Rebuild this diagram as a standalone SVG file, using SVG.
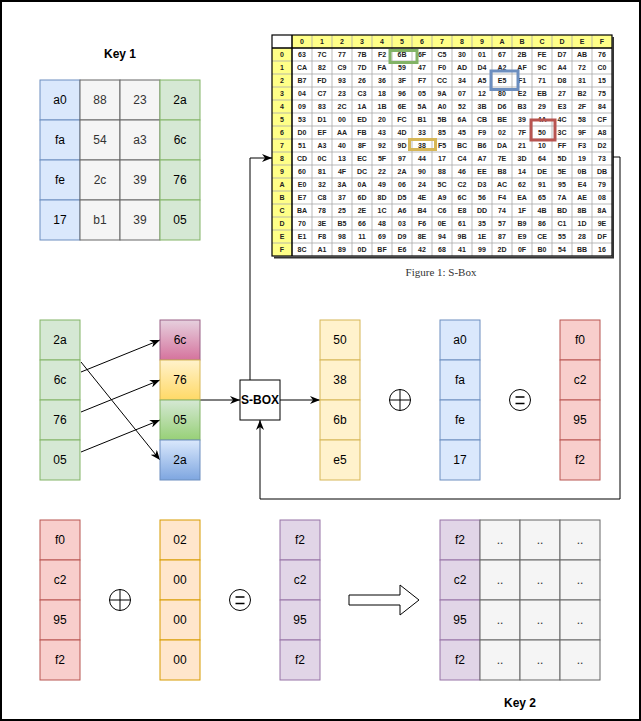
<svg xmlns="http://www.w3.org/2000/svg" width="641" height="721" viewBox="0 0 641 721">
<style>
.t{font-family:"Liberation Sans",Arial,sans-serif;font-size:12px;text-anchor:middle;fill:#000}
.tg{fill:#333}
.bd{font-weight:bold}
.s{font-family:"Liberation Sans",Arial,sans-serif;font-size:7px;font-weight:bold;text-anchor:middle;fill:#222}
.blue{fill:#dae8fc;stroke:#6c8ebf}
.green{fill:#d5e8d4;stroke:#82b366}
.gray{fill:#f5f5f5;stroke:#666}
.yellow{fill:#fff2cc;stroke:#d6b656}
.red{fill:#f8cecc;stroke:#b85450}
.orange{fill:#ffe6cc;stroke:#d79b00}
.purple{fill:#e1d5e7;stroke:#9673a6}
.edge{fill:none;stroke:#000;stroke-width:1}
.hl{fill:none;stroke-width:3}
.sym{fill:#fff;stroke:#000;stroke-width:1}
</style>
<defs>
<marker id="arr" markerUnits="userSpaceOnUse" viewBox="0 0 10 8" refX="10" refY="4" markerWidth="10" markerHeight="8" orient="auto">
<path d="M0,0 L10,4 L0,8 L3,4 Z" fill="#000"/>
</marker>
<linearGradient id="gPink" x1="0" y1="0" x2="0" y2="1"><stop offset="0" stop-color="#e6d0de"/><stop offset="1" stop-color="#d5739d"/></linearGradient>
<linearGradient id="gYel" x1="0" y1="0" x2="0" y2="1"><stop offset="0" stop-color="#fff2cc"/><stop offset="1" stop-color="#ffd966"/></linearGradient>
<linearGradient id="gGrn" x1="0" y1="0" x2="0" y2="1"><stop offset="0" stop-color="#d5e8d4"/><stop offset="1" stop-color="#97d077"/></linearGradient>
<linearGradient id="gBlu" x1="0" y1="0" x2="0" y2="1"><stop offset="0" stop-color="#dae8fc"/><stop offset="1" stop-color="#7ea6e0"/></linearGradient>
</defs>
<rect x="0" y="0" width="641" height="721" fill="#fff"/>
<rect x="1" y="1" width="639" height="719" fill="none" stroke="#000" stroke-width="2"/>

<g id="key1">
<text class="t bd" x="120" y="58">Key 1</text>
<rect class="blue" x="40" y="80" width="40" height="40"/><rect class="blue" x="40" y="120" width="40" height="40"/><rect class="blue" x="40" y="160" width="40" height="40"/><rect class="blue" x="40" y="200" width="40" height="40"/>
<rect class="gray" x="80" y="80" width="40" height="40"/><rect class="gray" x="80" y="120" width="40" height="40"/><rect class="gray" x="80" y="160" width="40" height="40"/><rect class="gray" x="80" y="200" width="40" height="40"/>
<rect class="gray" x="120" y="80" width="40" height="40"/><rect class="gray" x="120" y="120" width="40" height="40"/><rect class="gray" x="120" y="160" width="40" height="40"/><rect class="gray" x="120" y="200" width="40" height="40"/>
<rect class="green" x="160" y="80" width="40" height="40"/><rect class="green" x="160" y="120" width="40" height="40"/><rect class="green" x="160" y="160" width="40" height="40"/><rect class="green" x="160" y="200" width="40" height="40"/>
<text class="t" x="60" y="104">a0</text><text class="t" x="60" y="144">fa</text><text class="t" x="60" y="184">fe</text><text class="t" x="60" y="224">17</text>
<text class="t tg" x="100" y="104">88</text><text class="t tg" x="100" y="144">54</text><text class="t tg" x="100" y="184">2c</text><text class="t tg" x="100" y="224">b1</text>
<text class="t tg" x="140" y="104">23</text><text class="t tg" x="140" y="144">a3</text><text class="t tg" x="140" y="184">39</text><text class="t tg" x="140" y="224">39</text>
<text class="t" x="180" y="104">2a</text><text class="t" x="180" y="144">6c</text><text class="t" x="180" y="184">76</text><text class="t" x="180" y="224">05</text>
</g>

<g id="sbox-table">
<rect x="272" y="35" width="340" height="221" fill="#fff"/>
<rect x="292" y="35" width="320" height="13" fill="#ffff88"/>
<rect x="272" y="48" width="20" height="208" fill="#ffff88"/>
<path d="M312,35V256M332,35V256M352,35V256M372,35V256M392,35V256M412,35V256M432,35V256M452,35V256M472,35V256M492,35V256M512,35V256M532,35V256M552,35V256M572,35V256M592,35V256M272,61H612M272,74H612M272,87H612M272,100H612M272,113H612M272,126H612M272,139H612M272,152H612M272,165H612M272,178H612M272,191H612M272,204H612M272,217H612M272,230H612M272,243H612" fill="none" stroke="#aaa" stroke-width="0.8"/>
<path d="M272,48H612M292,35V256" fill="none" stroke="#000" stroke-width="1.5"/>
<rect x="272" y="35" width="340" height="221" fill="none" stroke="#000" stroke-width="1.2"/>
<path d="M613,37V257.5H274" fill="none" stroke="#333" stroke-width="2"/>
<text class="s"><tspan x="302" y="44">0</tspan><tspan x="322" y="44">1</tspan><tspan x="342" y="44">2</tspan><tspan x="362" y="44">3</tspan><tspan x="382" y="44">4</tspan><tspan x="402" y="44">5</tspan><tspan x="422" y="44">6</tspan><tspan x="442" y="44">7</tspan><tspan x="462" y="44">8</tspan><tspan x="482" y="44">9</tspan><tspan x="502" y="44">A</tspan><tspan x="522" y="44">B</tspan><tspan x="542" y="44">C</tspan><tspan x="562" y="44">D</tspan><tspan x="582" y="44">E</tspan><tspan x="602" y="44">F</tspan></text>
<text class="s"><tspan x="282" y="57">0</tspan><tspan x="282" y="70">1</tspan><tspan x="282" y="83">2</tspan><tspan x="282" y="96">3</tspan><tspan x="282" y="109">4</tspan><tspan x="282" y="122">5</tspan><tspan x="282" y="135">6</tspan><tspan x="282" y="148">7</tspan><tspan x="282" y="161">8</tspan><tspan x="282" y="174">9</tspan><tspan x="282" y="187">A</tspan><tspan x="282" y="200">B</tspan><tspan x="282" y="213">C</tspan><tspan x="282" y="226">D</tspan><tspan x="282" y="239">E</tspan><tspan x="282" y="252">F</tspan></text>
<text class="s" y="57"><tspan x="302">63</tspan><tspan x="322">7C</tspan><tspan x="342">77</tspan><tspan x="362">7B</tspan><tspan x="382">F2</tspan><tspan x="402">6B</tspan><tspan x="422">6F</tspan><tspan x="442">C5</tspan><tspan x="462">30</tspan><tspan x="482">01</tspan><tspan x="502">67</tspan><tspan x="522">2B</tspan><tspan x="542">FE</tspan><tspan x="562">D7</tspan><tspan x="582">AB</tspan><tspan x="602">76</tspan></text>
<text class="s" y="70"><tspan x="302">CA</tspan><tspan x="322">82</tspan><tspan x="342">C9</tspan><tspan x="362">7D</tspan><tspan x="382">FA</tspan><tspan x="402">59</tspan><tspan x="422">47</tspan><tspan x="442">F0</tspan><tspan x="462">AD</tspan><tspan x="482">D4</tspan><tspan x="502">A2</tspan><tspan x="522">AF</tspan><tspan x="542">9C</tspan><tspan x="562">A4</tspan><tspan x="582">72</tspan><tspan x="602">C0</tspan></text>
<text class="s" y="83"><tspan x="302">B7</tspan><tspan x="322">FD</tspan><tspan x="342">93</tspan><tspan x="362">26</tspan><tspan x="382">36</tspan><tspan x="402">3F</tspan><tspan x="422">F7</tspan><tspan x="442">CC</tspan><tspan x="462">34</tspan><tspan x="482">A5</tspan><tspan x="502">E5</tspan><tspan x="522">F1</tspan><tspan x="542">71</tspan><tspan x="562">D8</tspan><tspan x="582">31</tspan><tspan x="602">15</tspan></text>
<text class="s" y="96"><tspan x="302">04</tspan><tspan x="322">C7</tspan><tspan x="342">23</tspan><tspan x="362">C3</tspan><tspan x="382">18</tspan><tspan x="402">96</tspan><tspan x="422">05</tspan><tspan x="442">9A</tspan><tspan x="462">07</tspan><tspan x="482">12</tspan><tspan x="502">80</tspan><tspan x="522">E2</tspan><tspan x="542">EB</tspan><tspan x="562">27</tspan><tspan x="582">B2</tspan><tspan x="602">75</tspan></text>
<text class="s" y="109"><tspan x="302">09</tspan><tspan x="322">83</tspan><tspan x="342">2C</tspan><tspan x="362">1A</tspan><tspan x="382">1B</tspan><tspan x="402">6E</tspan><tspan x="422">5A</tspan><tspan x="442">A0</tspan><tspan x="462">52</tspan><tspan x="482">3B</tspan><tspan x="502">D6</tspan><tspan x="522">B3</tspan><tspan x="542">29</tspan><tspan x="562">E3</tspan><tspan x="582">2F</tspan><tspan x="602">84</tspan></text>
<text class="s" y="122"><tspan x="302">53</tspan><tspan x="322">D1</tspan><tspan x="342">00</tspan><tspan x="362">ED</tspan><tspan x="382">20</tspan><tspan x="402">FC</tspan><tspan x="422">B1</tspan><tspan x="442">5B</tspan><tspan x="462">6A</tspan><tspan x="482">CB</tspan><tspan x="502">BE</tspan><tspan x="522">39</tspan><tspan x="542">4A</tspan><tspan x="562">4C</tspan><tspan x="582">58</tspan><tspan x="602">CF</tspan></text>
<text class="s" y="135"><tspan x="302">D0</tspan><tspan x="322">EF</tspan><tspan x="342">AA</tspan><tspan x="362">FB</tspan><tspan x="382">43</tspan><tspan x="402">4D</tspan><tspan x="422">33</tspan><tspan x="442">85</tspan><tspan x="462">45</tspan><tspan x="482">F9</tspan><tspan x="502">02</tspan><tspan x="522">7F</tspan><tspan x="542">50</tspan><tspan x="562">3C</tspan><tspan x="582">9F</tspan><tspan x="602">A8</tspan></text>
<text class="s" y="148"><tspan x="302">51</tspan><tspan x="322">A3</tspan><tspan x="342">40</tspan><tspan x="362">8F</tspan><tspan x="382">92</tspan><tspan x="402">9D</tspan><tspan x="422">38</tspan><tspan x="442">F5</tspan><tspan x="462">BC</tspan><tspan x="482">B6</tspan><tspan x="502">DA</tspan><tspan x="522">21</tspan><tspan x="542">10</tspan><tspan x="562">FF</tspan><tspan x="582">F3</tspan><tspan x="602">D2</tspan></text>
<text class="s" y="161"><tspan x="302">CD</tspan><tspan x="322">0C</tspan><tspan x="342">13</tspan><tspan x="362">EC</tspan><tspan x="382">5F</tspan><tspan x="402">97</tspan><tspan x="422">44</tspan><tspan x="442">17</tspan><tspan x="462">C4</tspan><tspan x="482">A7</tspan><tspan x="502">7E</tspan><tspan x="522">3D</tspan><tspan x="542">64</tspan><tspan x="562">5D</tspan><tspan x="582">19</tspan><tspan x="602">73</tspan></text>
<text class="s" y="174"><tspan x="302">60</tspan><tspan x="322">81</tspan><tspan x="342">4F</tspan><tspan x="362">DC</tspan><tspan x="382">22</tspan><tspan x="402">2A</tspan><tspan x="422">90</tspan><tspan x="442">88</tspan><tspan x="462">46</tspan><tspan x="482">EE</tspan><tspan x="502">B8</tspan><tspan x="522">14</tspan><tspan x="542">DE</tspan><tspan x="562">5E</tspan><tspan x="582">0B</tspan><tspan x="602">DB</tspan></text>
<text class="s" y="187"><tspan x="302">E0</tspan><tspan x="322">32</tspan><tspan x="342">3A</tspan><tspan x="362">0A</tspan><tspan x="382">49</tspan><tspan x="402">06</tspan><tspan x="422">24</tspan><tspan x="442">5C</tspan><tspan x="462">C2</tspan><tspan x="482">D3</tspan><tspan x="502">AC</tspan><tspan x="522">62</tspan><tspan x="542">91</tspan><tspan x="562">95</tspan><tspan x="582">E4</tspan><tspan x="602">79</tspan></text>
<text class="s" y="200"><tspan x="302">E7</tspan><tspan x="322">C8</tspan><tspan x="342">37</tspan><tspan x="362">6D</tspan><tspan x="382">8D</tspan><tspan x="402">D5</tspan><tspan x="422">4E</tspan><tspan x="442">A9</tspan><tspan x="462">6C</tspan><tspan x="482">56</tspan><tspan x="502">F4</tspan><tspan x="522">EA</tspan><tspan x="542">65</tspan><tspan x="562">7A</tspan><tspan x="582">AE</tspan><tspan x="602">08</tspan></text>
<text class="s" y="213"><tspan x="302">BA</tspan><tspan x="322">78</tspan><tspan x="342">25</tspan><tspan x="362">2E</tspan><tspan x="382">1C</tspan><tspan x="402">A6</tspan><tspan x="422">B4</tspan><tspan x="442">C6</tspan><tspan x="462">E8</tspan><tspan x="482">DD</tspan><tspan x="502">74</tspan><tspan x="522">1F</tspan><tspan x="542">4B</tspan><tspan x="562">BD</tspan><tspan x="582">8B</tspan><tspan x="602">8A</tspan></text>
<text class="s" y="226"><tspan x="302">70</tspan><tspan x="322">3E</tspan><tspan x="342">B5</tspan><tspan x="362">66</tspan><tspan x="382">48</tspan><tspan x="402">03</tspan><tspan x="422">F6</tspan><tspan x="442">0E</tspan><tspan x="462">61</tspan><tspan x="482">35</tspan><tspan x="502">57</tspan><tspan x="522">B9</tspan><tspan x="542">86</tspan><tspan x="562">C1</tspan><tspan x="582">1D</tspan><tspan x="602">9E</tspan></text>
<text class="s" y="239"><tspan x="302">E1</tspan><tspan x="322">F8</tspan><tspan x="342">98</tspan><tspan x="362">11</tspan><tspan x="382">69</tspan><tspan x="402">D9</tspan><tspan x="422">8E</tspan><tspan x="442">94</tspan><tspan x="462">9B</tspan><tspan x="482">1E</tspan><tspan x="502">87</tspan><tspan x="522">E9</tspan><tspan x="542">CE</tspan><tspan x="562">55</tspan><tspan x="582">28</tspan><tspan x="602">DF</tspan></text>
<text class="s" y="252"><tspan x="302">8C</tspan><tspan x="322">A1</tspan><tspan x="342">89</tspan><tspan x="362">0D</tspan><tspan x="382">BF</tspan><tspan x="402">E6</tspan><tspan x="422">42</tspan><tspan x="442">68</tspan><tspan x="462">41</tspan><tspan x="482">99</tspan><tspan x="502">2D</tspan><tspan x="522">0F</tspan><tspan x="542">B0</tspan><tspan x="562">54</tspan><tspan x="582">BB</tspan><tspan x="602">16</tspan></text>
<rect class="hl" x="390" y="50.5" width="27" height="12" stroke="#82b366"/>
<rect class="hl" x="491" y="71" width="27" height="18.5" stroke="#6c8ebf"/>
<rect class="hl" x="531" y="120" width="24" height="20" stroke="#b85450"/>
<rect class="hl" x="409.5" y="139.5" width="26" height="10" stroke="#d6b656"/>
<text x="441" y="276" font-family="'Liberation Serif','Times New Roman',serif" font-size="11" fill="#333" text-anchor="middle">Figure 1: S-Box</text>
</g>

<g id="connectors">
<path class="edge" d="M81,372 L160,340" marker-end="url(#arr)"/>
<path class="edge" d="M81,412 L160,380" marker-end="url(#arr)"/>
<path class="edge" d="M81,452 L160,420" marker-end="url(#arr)"/>
<path class="edge" d="M81,362 L160,460" marker-end="url(#arr)"/>
<path class="edge" d="M200,400 L240,400" marker-end="url(#arr)"/>
<path class="edge" d="M280,400 L320,400" marker-end="url(#arr)"/>
<path class="edge" d="M250,380 L250,158 L272,158" marker-end="url(#arr)"/>
<path class="edge" d="M613,157 L620,157 L620,499 L260,499 L260,420" marker-end="url(#arr)"/>
</g>

<g id="word-in">
<rect class="green" x="40" y="320" width="40" height="40"/><rect class="green" x="40" y="360" width="40" height="40"/><rect class="green" x="40" y="400" width="40" height="40"/><rect class="green" x="40" y="440" width="40" height="40"/>
<text class="t" x="60" y="344">2a</text><text class="t" x="60" y="384">6c</text><text class="t" x="60" y="424">76</text><text class="t" x="60" y="464">05</text>
</g>
<g id="word-rot">
<rect x="160" y="320" width="40" height="40" fill="url(#gPink)" stroke="#996185"/>
<rect x="160" y="360" width="40" height="40" fill="url(#gYel)" stroke="#d6b656"/>
<rect x="160" y="400" width="40" height="40" fill="url(#gGrn)" stroke="#82b366"/>
<rect x="160" y="440" width="40" height="40" fill="url(#gBlu)" stroke="#6c8ebf"/>
<text class="t" x="180" y="344">6c</text><text class="t" x="180" y="384">76</text><text class="t" x="180" y="424">05</text><text class="t" x="180" y="464">2a</text>
</g>
<g id="sbox">
<rect x="240" y="380" width="40" height="40" fill="#fff" stroke="#000"/>
<text class="t bd" x="260" y="404">S-BOX</text>
</g>
<g id="word-sub">
<rect class="yellow" x="320" y="320" width="40" height="40"/><rect class="yellow" x="320" y="360" width="40" height="40"/><rect class="yellow" x="320" y="400" width="40" height="40"/><rect class="yellow" x="320" y="440" width="40" height="40"/>
<text class="t" x="340" y="344">50</text><text class="t" x="340" y="384">38</text><text class="t" x="340" y="424">6b</text><text class="t" x="340" y="464">e5</text>
</g>
<g id="xor1">
<circle class="sym" cx="400" cy="400" r="10.5"/><path d="M389.5,400H410.5M400,389.5V410.5" stroke="#000" fill="none"/>
</g>
<g id="word-key1">
<rect class="blue" x="440" y="320" width="40" height="40"/><rect class="blue" x="440" y="360" width="40" height="40"/><rect class="blue" x="440" y="400" width="40" height="40"/><rect class="blue" x="440" y="440" width="40" height="40"/>
<text class="t" x="460" y="344">a0</text><text class="t" x="460" y="384">fa</text><text class="t" x="460" y="424">fe</text><text class="t" x="460" y="464">17</text>
</g>
<g id="eq1">
<circle class="sym" cx="520" cy="400" r="10.5"/><path d="M515.5,397H524.5M515.5,403.5H524.5" stroke="#000" stroke-width="1.3" fill="none"/>
</g>
<g id="word-res1">
<rect class="red" x="560" y="320" width="40" height="40"/><rect class="red" x="560" y="360" width="40" height="40"/><rect class="red" x="560" y="400" width="40" height="40"/><rect class="red" x="560" y="440" width="40" height="40"/>
<text class="t" x="580" y="344">f0</text><text class="t" x="580" y="384">c2</text><text class="t" x="580" y="424">95</text><text class="t" x="580" y="464">f2</text>
</g>

<g id="word-res1b">
<rect class="red" x="40" y="520" width="40" height="40"/><rect class="red" x="40" y="560" width="40" height="40"/><rect class="red" x="40" y="600" width="40" height="40"/><rect class="red" x="40" y="640" width="40" height="40"/>
<text class="t" x="60" y="544">f0</text><text class="t" x="60" y="584">c2</text><text class="t" x="60" y="624">95</text><text class="t" x="60" y="664">f2</text>
</g>
<g id="xor2">
<circle class="sym" cx="120" cy="600" r="10.5"/><path d="M109.5,600H130.5M120,589.5V610.5" stroke="#000" fill="none"/>
</g>
<g id="rcon">
<rect class="orange" x="160" y="520" width="40" height="40"/><rect class="orange" x="160" y="560" width="40" height="40"/><rect class="orange" x="160" y="600" width="40" height="40"/><rect class="orange" x="160" y="640" width="40" height="40"/>
<text class="t" x="180" y="544">02</text><text class="t" x="180" y="584">00</text><text class="t" x="180" y="624">00</text><text class="t" x="180" y="664">00</text>
</g>
<g id="eq2">
<circle class="sym" cx="240" cy="600" r="10.5"/><path d="M235.5,597H244.5M235.5,603.5H244.5" stroke="#000" stroke-width="1.3" fill="none"/>
</g>
<g id="word-res2">
<rect class="purple" x="280" y="520" width="40" height="40"/><rect class="purple" x="280" y="560" width="40" height="40"/><rect class="purple" x="280" y="600" width="40" height="40"/><rect class="purple" x="280" y="640" width="40" height="40"/>
<text class="t" x="300" y="544">f2</text><text class="t" x="300" y="584">c2</text><text class="t" x="300" y="624">95</text><text class="t" x="300" y="664">f2</text>
</g>
<g id="big-arrow">
<path d="M349,595H400V585L419,600L400,615V605H349Z" fill="#fff" stroke="#000"/>
</g>
<g id="key2">
<rect class="purple" x="440" y="520" width="40" height="40"/><rect class="purple" x="440" y="560" width="40" height="40"/><rect class="purple" x="440" y="600" width="40" height="40"/><rect class="purple" x="440" y="640" width="40" height="40"/>
<rect class="gray" x="480" y="520" width="40" height="40"/><rect class="gray" x="480" y="560" width="40" height="40"/><rect class="gray" x="480" y="600" width="40" height="40"/><rect class="gray" x="480" y="640" width="40" height="40"/>
<rect class="gray" x="520" y="520" width="40" height="40"/><rect class="gray" x="520" y="560" width="40" height="40"/><rect class="gray" x="520" y="600" width="40" height="40"/><rect class="gray" x="520" y="640" width="40" height="40"/>
<rect class="gray" x="560" y="520" width="40" height="40"/><rect class="gray" x="560" y="560" width="40" height="40"/><rect class="gray" x="560" y="600" width="40" height="40"/><rect class="gray" x="560" y="640" width="40" height="40"/>
<text class="t" x="460" y="544">f2</text><text class="t" x="460" y="584">c2</text><text class="t" x="460" y="624">95</text><text class="t" x="460" y="664">f2</text>
<g font-size="10">
<text class="t tg" x="500" y="544" font-size="10">..</text><text class="t tg" x="540" y="544" font-size="10">..</text><text class="t tg" x="580" y="544" font-size="10">..</text>
<text class="t tg" x="500" y="584" font-size="10">..</text><text class="t tg" x="540" y="584" font-size="10">..</text><text class="t tg" x="580" y="584" font-size="10">..</text>
<text class="t tg" x="500" y="624" font-size="10">..</text><text class="t tg" x="540" y="624" font-size="10">..</text><text class="t tg" x="580" y="624" font-size="10">..</text>
<text class="t tg" x="500" y="664" font-size="10">..</text><text class="t tg" x="540" y="664" font-size="10">..</text><text class="t tg" x="580" y="664" font-size="10">..</text>
</g>
<text class="t bd" x="520" y="707">Key 2</text>
</g>
</svg>
